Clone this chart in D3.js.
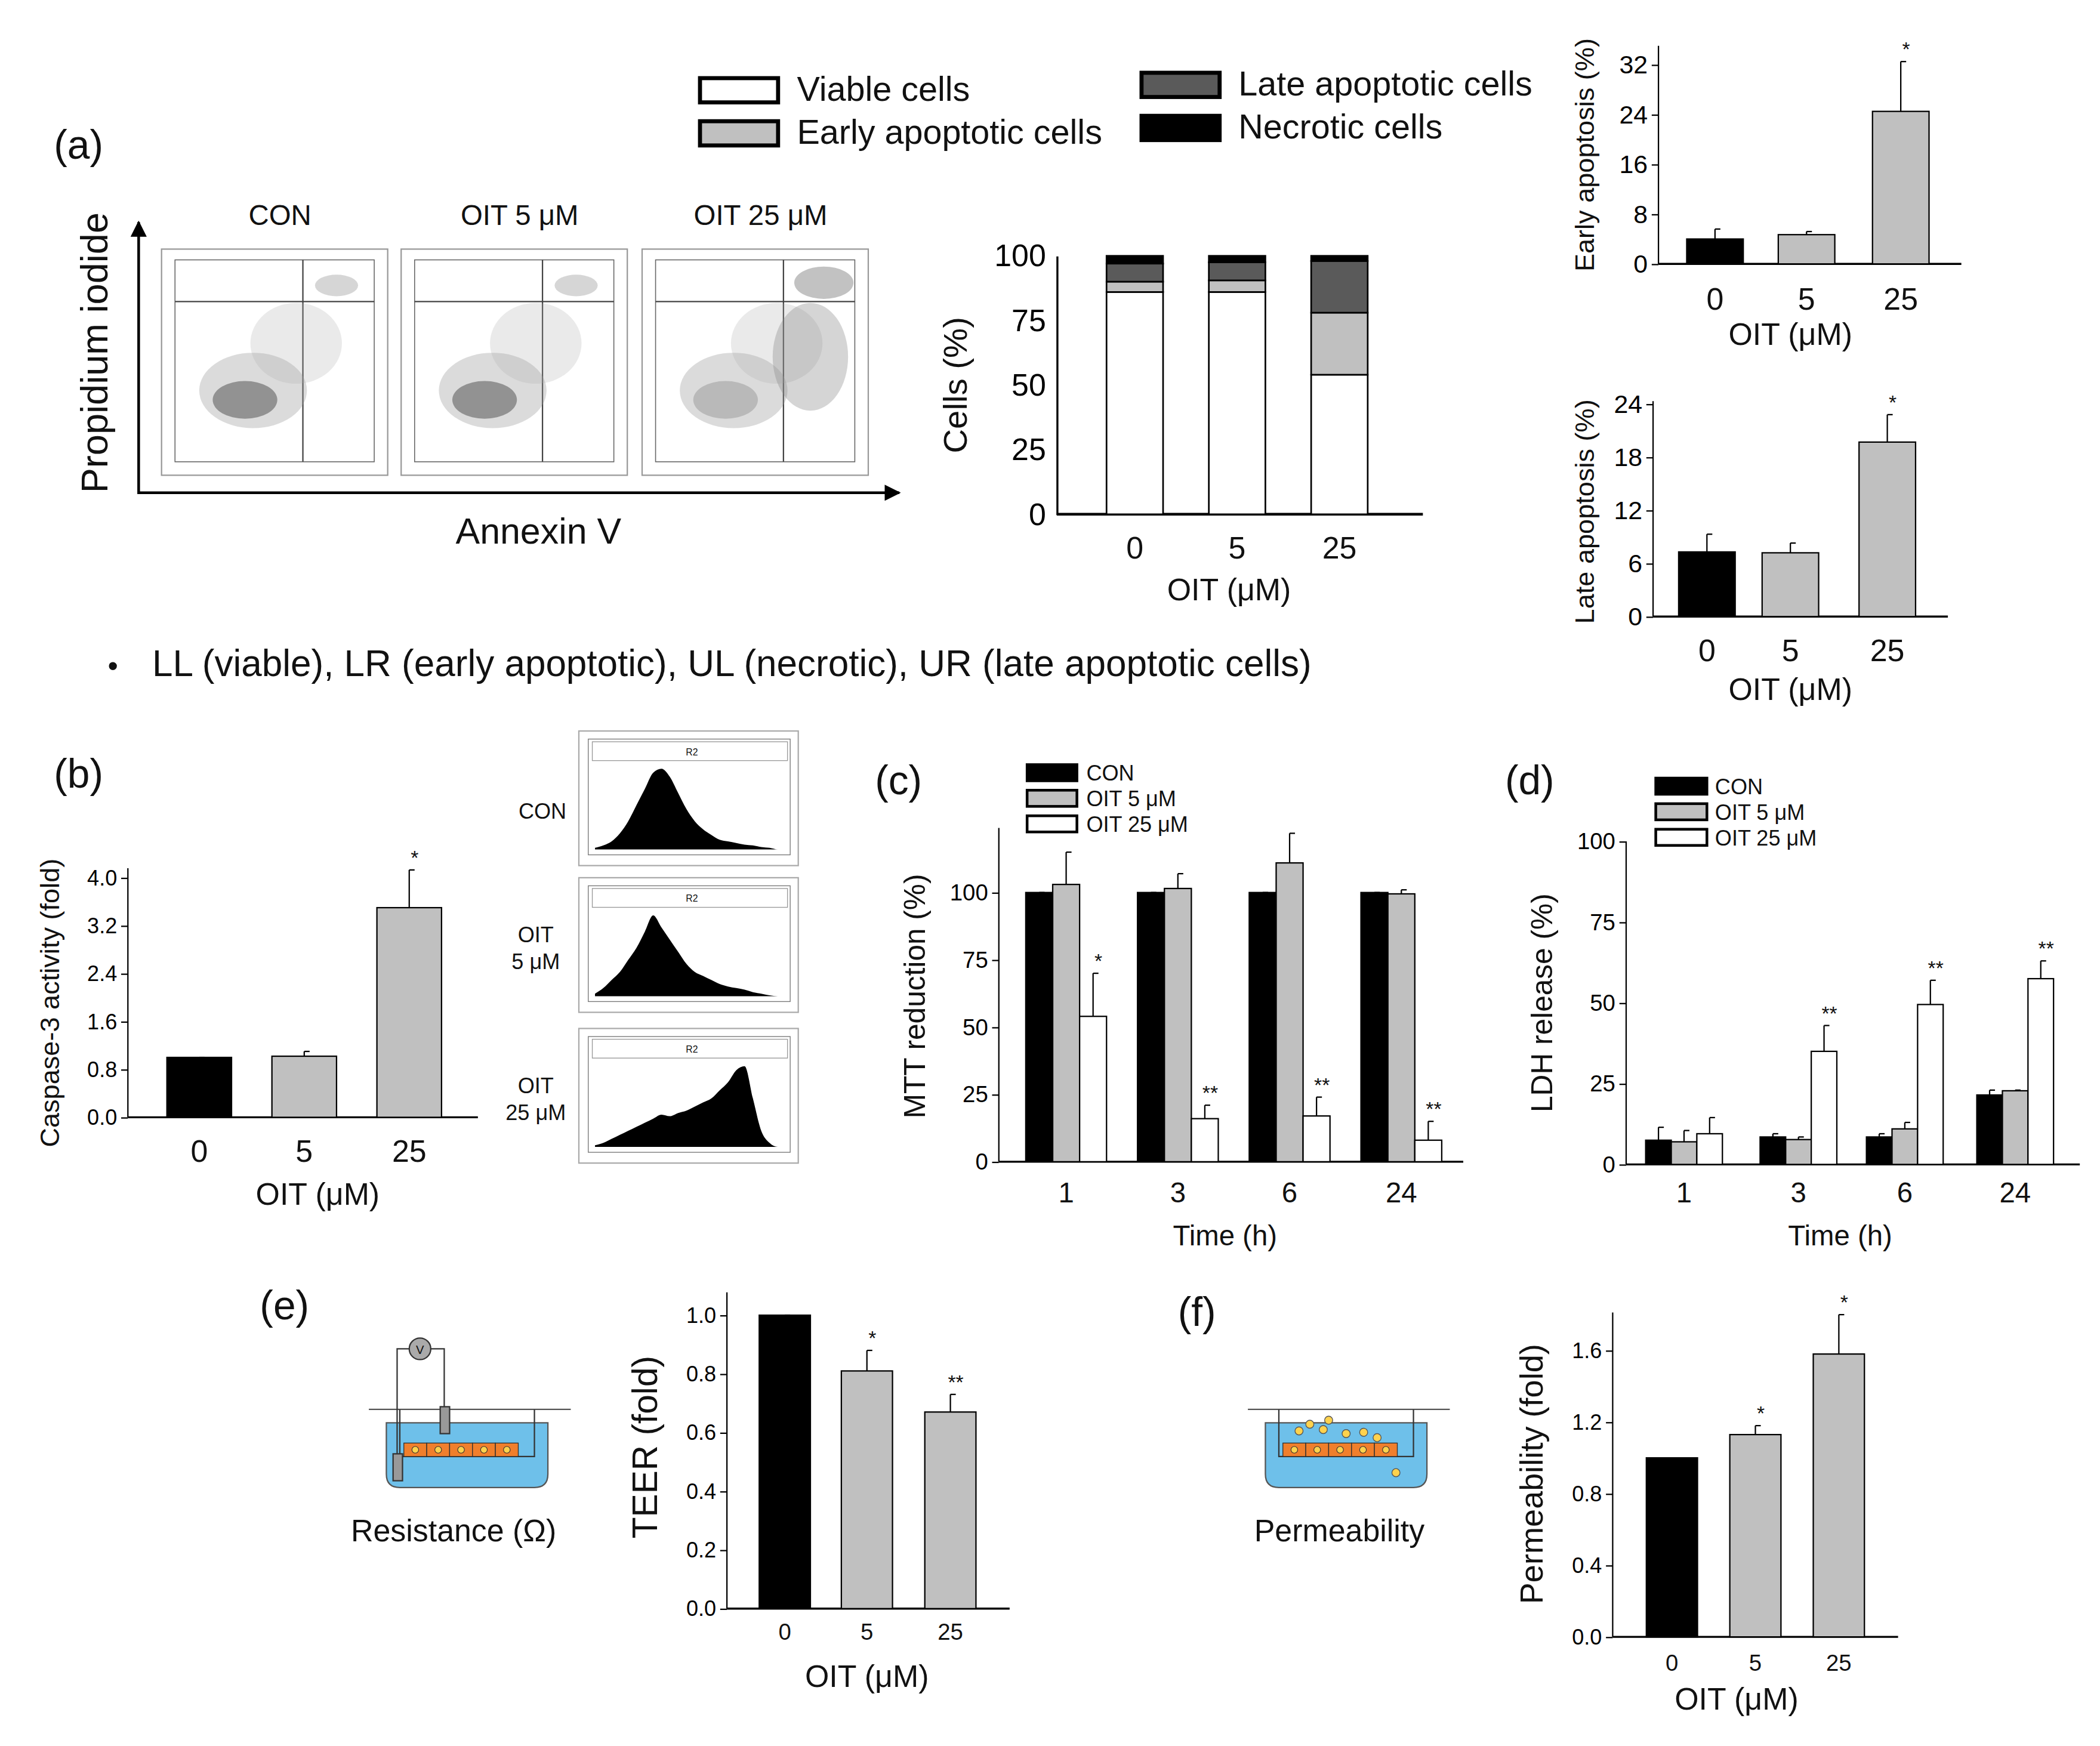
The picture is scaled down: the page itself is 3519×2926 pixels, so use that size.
<!DOCTYPE html>
<html><head><meta charset="utf-8">
<script src="https://cdn.jsdelivr.net/npm/d3@7"></script>
<style>body{margin:0;background:#fff}text{font-family:"Liberation Sans",Arial,sans-serif}</style>
</head><body><div id="chart"></div>
<script>
// ---- data ----
const doses = ['0', '5', '25']
const times = ['1', '3', '6', '24']
const groups = ['CON', 'OIT 5 μM', 'OIT 25 μM']

const stackKeys = ['viable', 'early', 'late', 'necrotic']
const stackViable = [86, 86, 54]
const stackEarly = [4, 4.5, 24]
const stackLate = [7, 7, 20]
const stackNecrotic = [3, 2.5, 2]

const earlyMean = [4.0, 4.7, 24.5], earlyErr = [5.6, 5.2, 32.5], earlySig = ['', '', '*']
const lateMean = [7.3, 7.2, 19.7], lateErr = [9.3, 8.3, 22.8], lateSig = ['', '', '*']
const caspMean = [1.0, 1.02, 3.5], caspErr = [1.0, 1.1, 4.13], caspSig = ['', '', '*']

const mttCon = [100, 100, 100, 100], mttConErr = [100, 100, 100, 100]
const mtt5 = [103, 101.5, 111, 99.5], mtt5Err = [115, 107, 122, 101]
const mtt25 = [54, 16, 17, 8], mtt25Err = [70, 21, 24, 15]
const mttSig = ['*', '**', '**', '**']

const ldhCon = [7.5, 8.5, 8.5, 21.5], ldhConErr = [11.5, 9.5, 9.5, 23]
const ldh5 = [7, 7.7, 11, 22.8], ldh5Err = [10.5, 8.5, 13, 23]
const ldh25 = [9.5, 35, 49.5, 57.5], ldh25Err = [14.5, 43, 57, 63]
const ldhSig = ['', '**', '**', '**']

const teerMean = [1.0, 0.81, 0.67], teerErr = [1.0, 0.88, 0.73], teerSig = ['', '*', '**']
const permMean = [1.0, 1.13, 1.58], permErr = [1.0, 1.18, 1.8], permSig = ['', '*', '*']

const histCon = [0.02,0.05,0.1,0.2,0.35,0.55,0.75,0.95,1.0,0.9,0.7,0.5,0.35,0.25,0.18,0.12,0.1,0.08,0.06,0.05,0.03,0.02,0,0]
const hist5 = [0.03,0.1,0.2,0.3,0.45,0.6,0.8,1.0,0.85,0.7,0.55,0.4,0.3,0.25,0.2,0.15,0.12,0.1,0.08,0.05,0.03,0.01,0,0]
const hist25 = [0.02,0.05,0.1,0.15,0.2,0.25,0.3,0.35,0.4,0.38,0.42,0.45,0.5,0.55,0.6,0.7,0.8,0.95,1.0,0.6,0.2,0.05,0,0]

const GRAY = '#c0c0c0', DARK = '#5a5a5a'

const svg = d3.select('#chart').append('svg')
  .attr('width', 3519).attr('height', 2926)
  .attr('viewBox', '0 0 1560 1297')

function txt(x, y, s, size, opts = {}) {
  const t = svg.append('text').attr('x', x).attr('y', y).attr('font-size', size)
    .attr('text-anchor', opts.anchor || 'middle').attr('fill', '#111').text(s)
  if (opts.rot) t.attr('transform', `rotate(-90,${x},${y})`)
  return t
}

// generic bar chart with error bars
function barChart(o) {
  const y = d3.scaleLinear().domain([0, o.yMax]).range([o.y0, o.y0 - (o.yMax) * o.ppu])
  const g = svg.append('g')
  g.append('g').attr('transform', `translate(${o.x0},0)`)
    .call(d3.axisLeft(y).tickValues(o.ticks).tickFormat(o.fmt).tickSize(5))
    .call(a => a.select('.domain').attr('d', `M-0,${o.y0}V${o.yTop}`))
    .call(a => a.selectAll('text').attr('font-size', o.tick).attr('font-family', 'Liberation Sans'))
  g.append('line').attr('x1', o.x0).attr('x2', o.x1).attr('y1', o.y0).attr('y2', o.y0).attr('stroke', '#000').attr('stroke-width', 1.5)
  o.series.forEach(s => {
    s.vals.forEach((v, i) => {
      const cx = o.cx[i] + (s.dx || 0)
      g.append('line').attr('x1', cx).attr('x2', cx).attr('y1', y(v)).attr('y2', y(s.err[i])).attr('stroke', '#000')
      g.append('line').attr('x1', cx).attr('x2', cx + 4).attr('y1', y(s.err[i])).attr('y2', y(s.err[i])).attr('stroke', '#000')
      g.append('rect').attr('x', cx - o.bw / 2).attr('y', y(v)).attr('width', o.bw).attr('height', o.y0 - y(v))
        .attr('fill', s.color ? s.color[i] : '#000').attr('stroke', '#000').attr('stroke-width', 1)
      if (s.sig && s.sig[i]) txt(cx + 4, y(s.err[i]) - 4, s.sig[i], 15)
    })
  })
  o.labels.forEach((l, i) => txt(o.cx[i], o.labY, l, o.labSize))
  txt(o.xtX, o.xtY, o.xTitle, o.xtSize)
  txt(o.ytX, o.ytY, o.yTitle, o.ytSize, { rot: true })
}

// ---- panel (a) ----
txt(40, 118, '(a)', 30, { anchor: 'start' })
const legA = [['Viable cells', '#fff', 520, 58], ['Early apoptotic cells', GRAY, 520, 90], ['Late apoptotic cells', DARK, 848, 54], ['Necrotic cells', '#000', 848, 86]]
legA.forEach(([s, c, x, yy]) => {
  svg.append('rect').attr('x', x).attr('y', yy).attr('width', 58).attr('height', 18).attr('fill', c).attr('stroke', '#000').attr('stroke-width', 3)
  txt(x + 72, yy + 17, s, 25.5, { anchor: 'start' })
})
// flow plots (schematic)
const flowX = [120, 298, 477]
groups.forEach((gname, i) => {
  const bx = flowX[i]
  txt(bx + 88, 167, gname, 21)
  svg.append('rect').attr('x', bx).attr('y', 185).attr('width', 168).attr('height', 168).attr('fill', '#fff').attr('stroke', '#999')
  svg.append('rect').attr('x', bx + 10).attr('y', 193).attr('width', 148).attr('height', 150).attr('fill', 'none').attr('stroke', '#666').attr('stroke-width', 0.7)
  svg.append('line').attr('x1', bx + 10).attr('x2', bx + 158).attr('y1', 224).attr('y2', 224).attr('stroke', '#444')
  svg.append('line').attr('x1', bx + 105).attr('x2', bx + 105).attr('y1', 193).attr('y2', 343).attr('stroke', '#444')
  const dense = i === 2 ? 0.25 : 0.55
  svg.append('ellipse').attr('cx', bx + 68).attr('cy', 290).attr('rx', 40).attr('ry', 28).attr('fill', '#999').attr('opacity', 0.35)
  svg.append('ellipse').attr('cx', bx + 62).attr('cy', 297).attr('rx', 24).attr('ry', 14).attr('fill', '#555').attr('opacity', dense)
  svg.append('ellipse').attr('cx', bx + 100).attr('cy', 255).attr('rx', 34).attr('ry', 30).attr('fill', '#aaa').attr('opacity', 0.25)
  if (i === 2) {
    svg.append('ellipse').attr('cx', bx + 125).attr('cy', 265).attr('rx', 28).attr('ry', 40).attr('fill', '#888').attr('opacity', 0.35)
    svg.append('ellipse').attr('cx', bx + 135).attr('cy', 210).attr('rx', 22).attr('ry', 12).attr('fill', '#777').attr('opacity', 0.45)
  } else {
    svg.append('ellipse').attr('cx', bx + 130).attr('cy', 212).attr('rx', 16).attr('ry', 8).attr('fill', '#999').attr('opacity', 0.4)
  }
})
const defs = svg.append('defs')
defs.append('marker').attr('id', 'arr').attr('viewBox', '0 0 10 10').attr('refX', 9).attr('refY', 5)
  .attr('markerWidth', 6).attr('markerHeight', 6).attr('orient', 'auto')
  .append('path').attr('d', 'M0,0L10,5L0,10z').attr('fill', '#000')
svg.append('line').attr('x1', 103).attr('y1', 367).attr('x2', 103).attr('y2', 165).attr('stroke', '#000').attr('stroke-width', 2).attr('marker-end', 'url(#arr)')
svg.append('line').attr('x1', 103).attr('y1', 366).attr('x2', 668).attr('y2', 366).attr('stroke', '#000').attr('stroke-width', 2).attr('marker-end', 'url(#arr)')
txt(80, 262, 'Propidium iodide', 28, { rot: true })
txt(400, 404, 'Annexin  V', 27)

// stacked bar
{
  const rows = doses.map((d, i) => ({ dose: d, viable: stackViable[i], early: stackEarly[i], late: stackLate[i], necrotic: stackNecrotic[i] }))
  const stack = d3.stack().keys(stackKeys)(rows)
  const x = d3.scalePoint().domain(doses).range([843, 995])
  const y = d3.scaleLinear().domain([0, 100]).range([382, 190])
  const col = { viable: '#fff', early: GRAY, late: DARK, necrotic: '#000' }
  svg.append('g').attr('transform', 'translate(785,0)')
    .call(d3.axisLeft(y).tickValues([0, 25, 50, 75, 100]).tickSize(0).tickPadding(8))
    .call(a => a.selectAll('text').attr('font-size', 23).attr('font-family', 'Liberation Sans'))
    .call(a => a.select('.domain').attr('stroke-width', 1.5))
  svg.append('line').attr('x1', 785).attr('x2', 1057).attr('y1', 382).attr('y2', 382).attr('stroke', '#000').attr('stroke-width', 2)
  stack.forEach(layer => {
    svg.append('g').selectAll('rect').data(layer).join('rect')
      .attr('x', d => x(d.data.dose) - 21).attr('width', 42)
      .attr('y', d => y(d[1])).attr('height', d => y(d[0]) - y(d[1]))
      .attr('fill', col[layer.key]).attr('stroke', '#000').attr('stroke-width', 1.2)
  })
  doses.forEach(d => txt(x(d), 415, d, 23))
  txt(913, 446, 'OIT (μM)', 23)
  txt(718, 286, 'Cells (%)', 25, { rot: true })
}

barChart({ x0: 1232, x1: 1457, y0: 196, ppu: 4.625, yMax: 35, yTop: 34, ticks: [0, 8, 16, 24, 32], fmt: d3.format('d'), tick: 19,
  cx: [1274, 1342, 1412], bw: 42, series: [{ vals: earlyMean, err: earlyErr, sig: earlySig, color: ['#000', GRAY, GRAY] }],
  labels: doses, labY: 230, labSize: 23, xTitle: 'OIT (μM)', xtX: 1330, xtY: 256, xtSize: 23, yTitle: 'Early apoptosis (%)', ytX: 1184, ytY: 115, ytSize: 20 })
barChart({ x0: 1228, x1: 1447, y0: 458, ppu: 6.58, yMax: 24.3, yTop: 298, ticks: [0, 6, 12, 18, 24], fmt: d3.format('d'), tick: 19,
  cx: [1268, 1330, 1402], bw: 42, series: [{ vals: lateMean, err: lateErr, sig: lateSig, color: ['#000', GRAY, GRAY] }],
  labels: doses, labY: 491, labSize: 23, xTitle: 'OIT (μM)', xtX: 1330, xtY: 520, xtSize: 23, yTitle: 'Late apoptosis (%)', ytX: 1184, ytY: 380, ytSize: 20 })

txt(80, 502, '•', 22, { anchor: 'start' })
txt(113, 502, 'LL (viable), LR (early apoptotic), UL (necrotic), UR (late apoptotic cells)', 27.5, { anchor: 'start' })

// ---- panel (b) ----
txt(40, 585, '(b)', 30, { anchor: 'start' })
barChart({ x0: 95, x1: 355, y0: 830, ppu: 44.5, yMax: 4.2, yTop: 645, ticks: [0, 0.8, 1.6, 2.4, 3.2, 4.0], fmt: d3.format('.1f'), tick: 16,
  cx: [148, 226, 304], bw: 48, series: [{ vals: caspMean, err: caspErr, sig: caspSig, color: ['#000', GRAY, GRAY] }],
  labels: doses, labY: 863, labSize: 23, xTitle: 'OIT (μM)', xtX: 236, xtY: 895, xtSize: 23, yTitle: 'Caspase-3 activity (fold)', ytX: 44, ytY: 745, ytSize: 20 })
const histTop = [543, 652, 764]
const histData = [histCon, hist5, hist25]
const histLab = [['CON'], ['OIT', '5 μM'], ['OIT', '25 μM']]
histTop.forEach((ty, i) => {
  svg.append('rect').attr('x', 430).attr('y', ty).attr('width', 163).attr('height', 100).attr('fill', '#fff').attr('stroke', '#aaa')
  svg.append('rect').attr('x', 437).attr('y', ty + 6).attr('width', 150).attr('height', 86).attr('fill', 'none').attr('stroke', '#777').attr('stroke-width', 0.6)
  svg.append('rect').attr('x', 440).attr('y', ty + 8).attr('width', 145).attr('height', 14).attr('fill', 'none').attr('stroke', '#999').attr('stroke-width', 0.6)
  txt(514, ty + 18, 'R2', 7)
  const hx = d3.scaleLinear().domain([0, histData[i].length - 1]).range([442, 584])
  const hy = d3.scaleLinear().domain([0, 1]).range([ty + 88, ty + 28])
  svg.append('path').datum(histData[i]).attr('fill', '#000')
    .attr('d', d3.area().x((d, j) => hx(j)).y0(ty + 88).y1(d => hy(d)).curve(d3.curveMonotoneX))
  histLab[i].forEach((s, k) => txt(i === 0 ? 403 : 398, ty + (i === 0 ? 65 : 48) + k * 20, s, 16))
})

// ---- panel (c) ----
txt(650, 590, '(c)', 30, { anchor: 'start' })
const legC = [['#000', 568], [GRAY, 587], ['#fff', 606]]
legC.forEach(([c, yy], i) => {
  svg.append('rect').attr('x', 763).attr('y', yy).attr('width', 37).attr('height', 12).attr('fill', c).attr('stroke', '#000').attr('stroke-width', 2)
  txt(807, yy + 12, groups[i], 16, { anchor: 'start' })
})
barChart({ x0: 742, x1: 1087, y0: 863, ppu: 2, yMax: 124, yTop: 615, ticks: [0, 25, 50, 75, 100], fmt: d3.format('d'), tick: 17,
  cx: [792, 875, 958, 1041], bw: 20, series: [
    { vals: mttCon, err: mttConErr, dx: -20, color: ['#000', '#000', '#000', '#000'] },
    { vals: mtt5, err: mtt5Err, dx: 0, color: [GRAY, GRAY, GRAY, GRAY] },
    { vals: mtt25, err: mtt25Err, dx: 20, sig: mttSig, color: ['#fff', '#fff', '#fff', '#fff'] }],
  labels: times, labY: 893, labSize: 21, xTitle: 'Time (h)', xtX: 910, xtY: 925, xtSize: 21, yTitle: 'MTT reduction (%)', ytX: 687, ytY: 740, ytSize: 22 })

// ---- panel (d) ----
txt(1118, 590, '(d)', 30, { anchor: 'start' })
const legD = [['#000', 578], [GRAY, 597], ['#fff', 616]]
legD.forEach(([c, yy], i) => {
  svg.append('rect').attr('x', 1230).attr('y', yy).attr('width', 38).attr('height', 12).attr('fill', c).attr('stroke', '#000').attr('stroke-width', 2)
  txt(1274, yy + 12, groups[i], 16, { anchor: 'start' })
})
barChart({ x0: 1208, x1: 1545, y0: 865, ppu: 2.4, yMax: 100, yTop: 625, ticks: [0, 25, 50, 75, 100], fmt: d3.format('d'), tick: 17,
  cx: [1251, 1336, 1415, 1497], bw: 19, series: [
    { vals: ldhCon, err: ldhConErr, dx: -19, color: ['#000', '#000', '#000', '#000'] },
    { vals: ldh5, err: ldh5Err, dx: 0, color: [GRAY, GRAY, GRAY, GRAY] },
    { vals: ldh25, err: ldh25Err, dx: 19, sig: ldhSig, color: ['#fff', '#fff', '#fff', '#fff'] }],
  labels: times, labY: 893, labSize: 21, xTitle: 'Time (h)', xtX: 1367, xtY: 925, xtSize: 21, yTitle: 'LDH release (%)', ytX: 1153, ytY: 745, ytSize: 22 })

// ---- panel (e) ----
txt(193, 980, '(e)', 30, { anchor: 'start' })
function well(cx, withElectrode) {
  const g = svg.append('g')
  g.append('path').attr('d', `M${cx - 68},1047 H${cx + 82}`).attr('stroke', '#555').attr('fill', 'none')
  g.append('path').attr('d', `M${cx - 55},1057 V1095 Q${cx - 55},1105 ${cx - 45},1105 H${cx + 55} Q${cx + 65},1105 ${cx + 65},1095 V1057 Z`).attr('fill', '#6ec0ea').attr('stroke', '#555')
  g.append('path').attr('d', `M${cx - 45},1047 V1082 H${cx + 55} V1047`).attr('fill', 'none').attr('stroke', '#333')
  for (let k = 0; k < 5; k++) {
    g.append('rect').attr('x', cx - 42 + k * 17).attr('y', 1072).attr('width', 17).attr('height', 10).attr('fill', '#f07f2c').attr('stroke', '#333').attr('stroke-width', 0.6)
    g.append('circle').attr('cx', cx - 33.5 + k * 17).attr('cy', 1077).attr('r', 2.5).attr('fill', '#ffd24d').attr('stroke', '#333').attr('stroke-width', 0.5)
  }
  if (withElectrode) {
    g.append('rect').attr('x', cx - 50).attr('y', 1080).attr('width', 7).attr('height', 20).attr('fill', '#999').attr('stroke', '#333')
    g.append('rect').attr('x', cx - 15).attr('y', 1045).attr('width', 7).attr('height', 20).attr('fill', '#999').attr('stroke', '#333')
    g.append('circle').attr('cx', cx - 30).attr('cy', 1002).attr('r', 8).attr('fill', '#aaa').attr('stroke', '#333')
    g.append('path').attr('d', `M${cx - 47},1080 V1002 H${cx - 38} M${cx - 22},1002 H${cx - 12} V1045`).attr('fill', 'none').attr('stroke', '#333')
    txt(cx - 30, 1006, 'V', 9)
  } else {
    const dots = [[-30, 1063], [-22, 1058], [-12, 1062], [-8, 1055], [5, 1065], [18, 1064], [28, 1068], [42, 1094]]
    dots.forEach(([dx, dy]) => g.append('circle').attr('cx', cx + dx).attr('cy', dy).attr('r', 3).attr('fill', '#ffd24d').attr('stroke', '#555').attr('stroke-width', 0.6))
  }
}
well(342, true)
txt(337, 1145, 'Resistance (Ω)', 23)
barChart({ x0: 540, x1: 750, y0: 1195, ppu: 218, yMax: 1.08, yTop: 960, ticks: [0, 0.2, 0.4, 0.6, 0.8, 1.0], fmt: d3.format('.1f'), tick: 16,
  cx: [583, 644, 706], bw: 38, series: [{ vals: teerMean, err: teerErr, sig: teerSig, color: ['#000', GRAY, GRAY] }],
  labels: doses, labY: 1218, labSize: 17, xTitle: 'OIT (μM)', xtX: 644, xtY: 1253, xtSize: 23, yTitle: 'TEER (fold)', ytX: 488, ytY: 1075, ytSize: 26 })

// ---- panel (f) ----
txt(875, 985, '(f)', 30, { anchor: 'start' })
well(995, false)
txt(995, 1145, 'Permeability', 23)
barChart({ x0: 1198, x1: 1410, y0: 1216, ppu: 133, yMax: 1.82, yTop: 975, ticks: [0, 0.4, 0.8, 1.2, 1.6], fmt: d3.format('.1f'), tick: 16,
  cx: [1242, 1304, 1366], bw: 38, series: [{ vals: permMean, err: permErr, sig: permSig, color: ['#000', GRAY, GRAY] }],
  labels: doses, labY: 1241, labSize: 17, xTitle: 'OIT (μM)', xtX: 1290, xtY: 1270, xtSize: 23, yTitle: 'Permeability (fold)', ytX: 1146, ytY: 1095, ytSize: 24 })
</script></body></html>
